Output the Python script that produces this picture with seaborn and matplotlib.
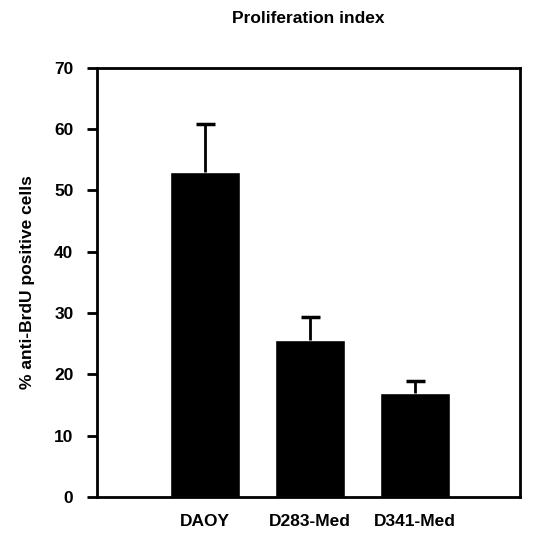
import numpy as np
import pandas as pd
import matplotlib
matplotlib.use('Agg')
import matplotlib.pyplot as plt
import seaborn as sns

# values
cell_lines = ['DAOY', 'D283-Med', 'D341-Med']
brdu_pct = [53.0, 25.7, 17.0]
brdu_err = [7.9, 3.6, 2.0]

sns.set_style('white')
plt.rcParams['font.family'] = ['Liberation Sans', 'DejaVu Sans']
plt.rcParams['text.color'] = 'black'
plt.rcParams['axes.labelcolor'] = 'black'
plt.rcParams['xtick.color'] = 'black'
plt.rcParams['ytick.color'] = 'black'

df = pd.DataFrame({'line': cell_lines, 'pct': brdu_pct})

fig = plt.figure(figsize=(5.33, 5.34), dpi=100)
ax = fig.add_axes([0.182, 0.069, 0.794, 0.804])

sns.barplot(data=df, x='line', y='pct', color='black', width=0.67,
            saturation=1, ax=ax)
# one-sided (upper) error bars
xpos = np.arange(len(cell_lines))
tops = np.array(brdu_pct) + np.array(brdu_err)
ax.vlines(xpos, brdu_pct, tops, color='black', linewidth=2)
ax.hlines(tops, xpos - 0.09, xpos + 0.09, color='black', linewidth=2.5)

ax.set_xlim(-1.03, 3.0)
ax.set_ylim(0, 70)
ax.set_yticks(range(0, 71, 10))
ax.tick_params(axis='y', direction='out', length=7, width=2, left=True,
               labelsize=12.5, pad=10)
ax.tick_params(axis='x', length=0, labelsize=12.5, pad=12)
for lbl in ax.get_xticklabels() + ax.get_yticklabels():
    lbl.set_fontweight('bold')
for sp in ax.spines.values():
    sp.set_visible(True)
    sp.set_color('black')
    sp.set_linewidth(2)

ax.set_xlabel('')
ax.set_ylabel('% anti-BrdU positive cells', fontsize=12.5, fontweight='bold',
              labelpad=14)
ax.set_title('Proliferation index', fontsize=12.5, fontweight='bold', pad=32)

fig.savefig('out.png', dpi=100)
